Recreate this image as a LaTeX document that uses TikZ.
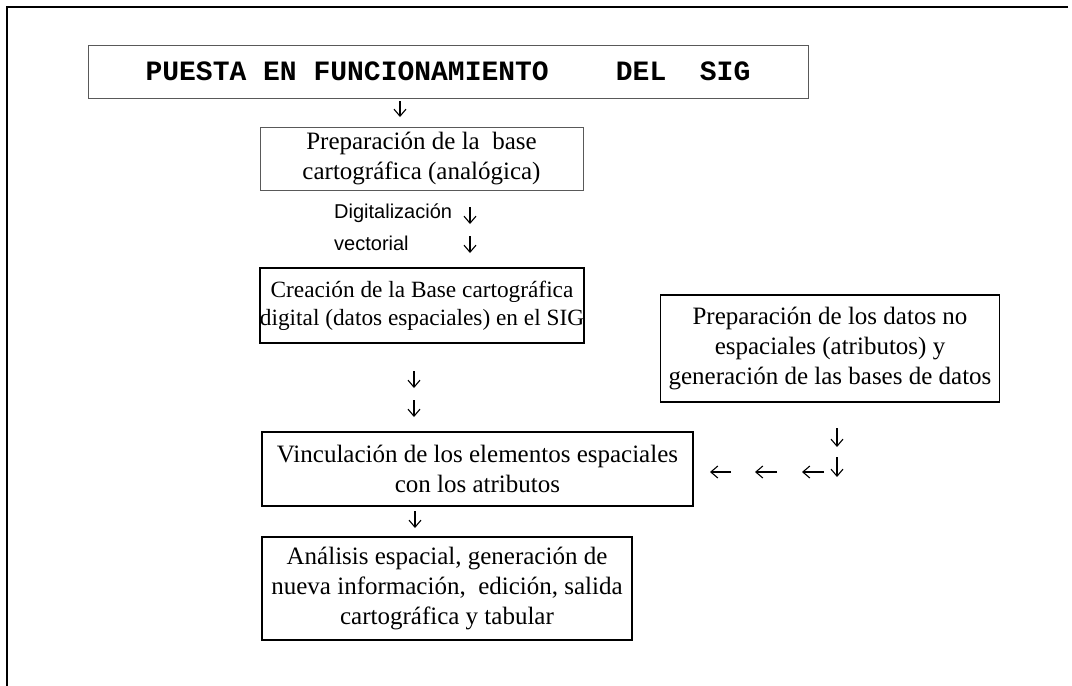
\documentclass[tikz,border=0pt]{standalone}
\usepackage{fontspec}
\setmainfont{Liberation Serif}
\newfontfamily\monof{Liberation Mono}
\newfontfamily\sansf{Liberation Sans}
\usetikzlibrary{arrows.meta}
\begin{document}
\begin{tikzpicture}[x=1pt,y=-1pt,
  box/.style={draw, line width=1.2pt, inner sep=0pt, align=center, font=\fontsize{25}{30}\selectfont},
  lightbox/.style={box, draw=black!65, line width=0.6pt},
  garrow/.style={-{Straight Barb[length=7pt,width=12pt]}, line width=1.1pt},
  lbl/.style={anchor=west, inner sep=0pt, font=\sansf\fontsize{20}{24}\selectfont},
]
\useasboundingbox (0,0) rectangle (1072,686);
% outer frame
\coordinate (fr1) at (1068,7);
\coordinate (fr2) at (7,7);
\coordinate (fr3) at (7,686);
\draw[line width=1.6pt] (fr1) -- (fr2) -- (fr3);

% boxes
\node[lightbox, minimum width=720pt, minimum height=53pt,
      font=\monof\bfseries\fontsize{28}{30}\selectfont] (title) at (448,71.5)
  {PUESTA EN FUNCIONAMIENTO\ \ \ \ DEL\ \ SIG};
\node[lightbox, minimum width=323pt, minimum height=63pt] (prep) at (421.5,158.5)
  {Preparación de la\ \ base\\cartográfica (analógica)};
\node[box, minimum width=321pt, minimum height=75pt,
      font=\fontsize{23.3}{28}\selectfont] (crea) at (422,305.5)
  {Creación de la Base cartográfica\\digital (datos espaciales) en el SIG};
\node[box, minimum width=339pt, minimum height=107pt] (datos) at (830,348.5)
  {Preparación de los datos no\\espaciales (atributos) y\\generación de las bases de datos};
\node[box, minimum width=431pt, minimum height=74pt] (vinc) at (477.5,469)
  {Vinculación de los elementos espaciales\\con los atributos};
\node[box, minimum width=370pt, minimum height=103pt] (anal) at (447,588.5)
  {Análisis espacial, generación de\\nueva información,\ \ edición, salida\\cartográfica y tabular};

% labels
\node[lbl] (dig) at (334,213) {Digitalización};
\node[lbl] (vec) at (334,243) {vectorial};

% arrow end points
\coordinate (a1s) at (400,101); \coordinate (a1e) at (400,117);
\coordinate (a2s) at (470,207); \coordinate (a2e) at (470,224);
\coordinate (a3s) at (470,236); \coordinate (a3e) at (470,253);
\coordinate (a4s) at (414,371); \coordinate (a4e) at (414,388);
\coordinate (a5s) at (414,400); \coordinate (a5e) at (414,417);
\coordinate (a6s) at (415,511); \coordinate (a6e) at (415,528);
\coordinate (a7s) at (837,428); \coordinate (a7e) at (837,447);
\coordinate (a8s) at (837,457); \coordinate (a8e) at (837,477);
\coordinate (l1s) at (824,472); \coordinate (l1e) at (802,472);
\coordinate (l2s) at (777,472); \coordinate (l2e) at (755,472);
\coordinate (l3s) at (731,472); \coordinate (l3e) at (710,472);

\foreach \a in {a1,a2,a3,a4,a5,a6,a7,a8,l1,l2,l3}
  \draw[garrow] (\a s) -- (\a e);
\end{tikzpicture}
\end{document}
